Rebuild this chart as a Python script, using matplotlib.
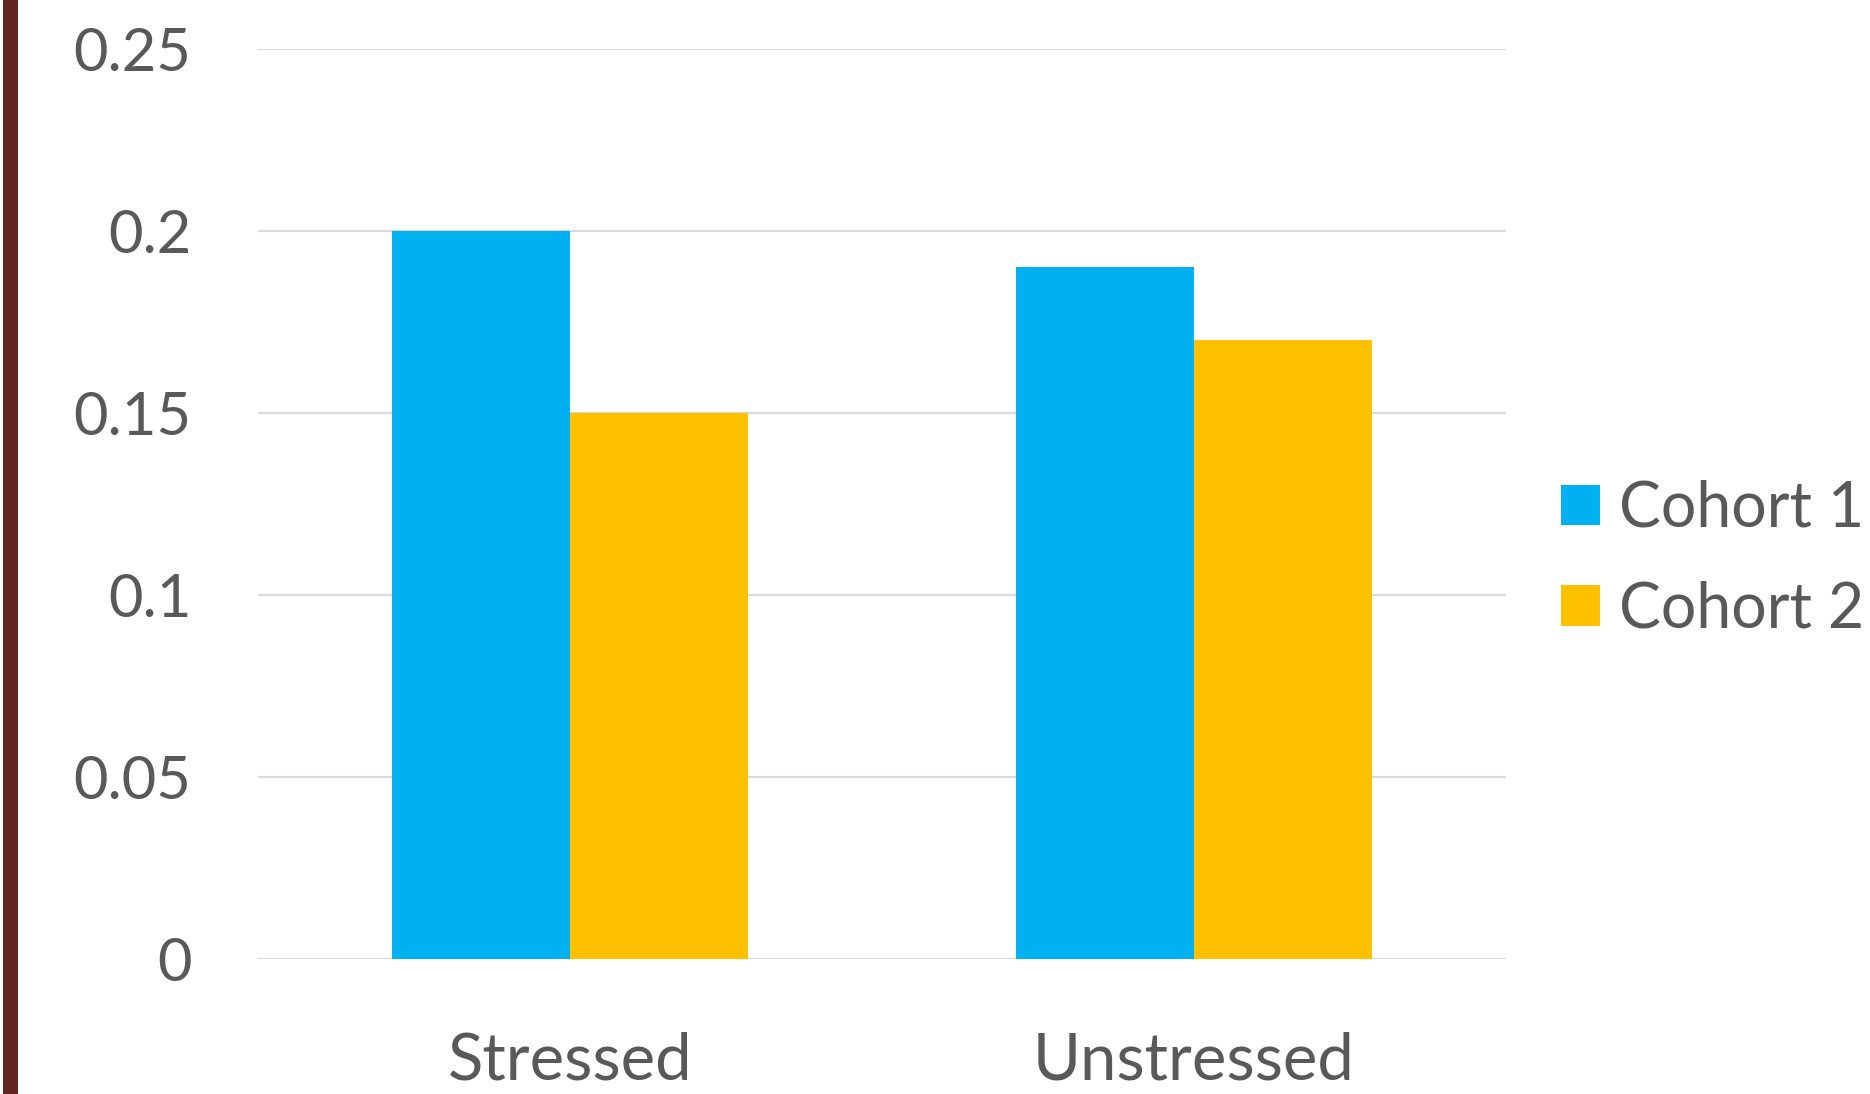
import matplotlib.pyplot as plt
from matplotlib.patches import Rectangle
import numpy as np

plt.rcParams['font.family'] = ['Lato', 'DejaVu Sans']

# data
categories = ['Stressed', 'Unstressed']
cohort1 = [0.20, 0.19]
cohort2 = [0.15, 0.17]
series_names = ['Cohort 1', 'Cohort 2']
yticks = [0, 0.05, 0.1, 0.15, 0.2, 0.25]
ytick_labels = ['0', '0.05', '0.1', '0.15', '0.2', '0.25']

blue = '#00b0f0'
gold = '#ffc000'
txt = '#595959'
fs = 43

fig = plt.figure(figsize=(18.7, 10.94), dpi=100)
ax = fig.add_axes([0.138, 0.1234, 0.6673, 0.8318])

# brown strip on the left edge
fig.patches.append(Rectangle((3 / 1870, 0), 15 / 1870, 1, transform=fig.transFigure,
                             facecolor='#632523', edgecolor='none'))

x = np.arange(len(categories))
w = 0.2857
b1 = ax.bar(x - w / 2, cohort1, w, color=blue, label=series_names[0], zorder=3)
b2 = ax.bar(x + w / 2, cohort2, w, color=gold, label=series_names[1], zorder=3)

ax.set_xlim(-0.5, 1.5)
ax.set_ylim(0, 0.25)
ax.set_yticks(yticks)
ax.set_yticklabels(ytick_labels)
ax.set_xticks(x)
ax.set_xticklabels(categories)
ax.grid(axis='y', color='#d9d9d9', linewidth=1.6, zorder=0)
for s in ax.spines.values():
    s.set_visible(False)
ax.tick_params(axis='y', length=0, labelsize=fs, labelcolor=txt, pad=48)
ax.tick_params(axis='x', length=0, labelsize=47, labelcolor=txt, pad=52)

fig.legend(handles=[b1, b2], loc='center left', bbox_to_anchor=(0.8348, 0.489),
           frameon=False, fontsize=45, labelcolor=txt, handlelength=0.62,
           handleheight=0.62, handletextpad=0.3, labelspacing=0.68,
           borderpad=0, borderaxespad=0)

fig.savefig('out.png', dpi=100)
